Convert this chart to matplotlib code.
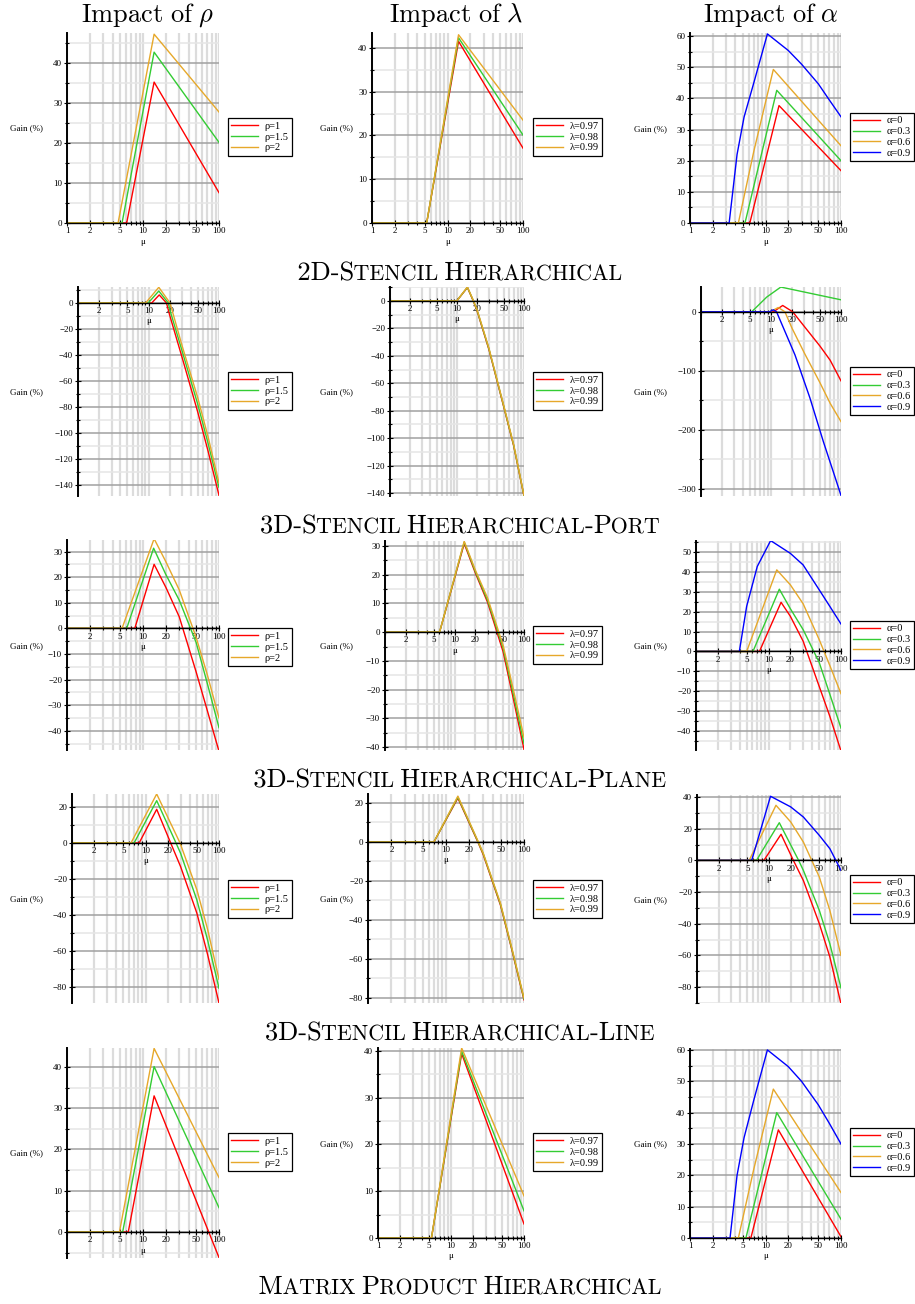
import numpy as np
import matplotlib
matplotlib.use('Agg')
import matplotlib.pyplot as plt
import matplotlib.transforms as mtransforms
from matplotlib.ticker import MultipleLocator, NullFormatter
from matplotlib.font_manager import FontProperties
from matplotlib.textpath import TextPath
from matplotlib.patches import PathPatch

plt.rcParams['font.family'] = ['Liberation Serif', 'DejaVu Serif']
plt.rcParams['mathtext.fontset'] = 'cm'

W, H, DPI = 915, 1304, 100

# line colours in legend order
colors = ['#ff0000', '#33cc33', '#e6a82a', '#0000ff']

rho_labels = ['ρ=1', 'ρ=1.5', 'ρ=2']
lam_labels = ['λ=0.97', 'λ=0.98', 'λ=0.99']
alpha_labels = ['α=0', 'α=0.3', 'α=0.6', 'α=0.9']

col_titles = [r'$\mathrm{Impact\ of}\ \rho$', r'$\mathrm{Impact\ of}\ \lambda$',
              r'$\mathrm{Impact\ of}\ \alpha$']
row_captions = ['2D-Stencil Hierarchical', '3D-Stencil Hierarchical-Port',
                '3D-Stencil Hierarchical-Plane', '3D-Stencil Hierarchical-Line',
                'Matrix Product Hierarchical']

# curves: lists of (mu, gain %) points
st2d_rho = [
    [(1, 0), (6.1, 0), (14, 35.3), (100, 7.6)],
    [(1, 0), (5.3, 0), (14, 42.8), (100, 20.2)],
    [(1, 0), (4.7, 0), (14, 47.3), (100, 27.8)],
]
st2d_lam = [
    [(1, 0), (5.3, 0), (14, 41.5), (100, 17.1)],
    [(1, 0), (5.3, 0), (14, 42.3), (100, 20.1)],
    [(1, 0), (5.3, 0), (14, 43.0), (100, 23.5)],
]
st2d_alpha = [
    [(1, 0), (6.2, 0), (15.1, 37.7), (100, 16.8)],
    [(1, 0), (5.35, 0), (14.1, 42.6), (100, 20.0)],
    [(1, 0), (4.37, 0), (7, 23), (12.7, 49.3), (100, 24.8)],
    [(1, 0), (3.3, 0), (4.2, 22), (5.2, 34), (7, 45), (10.6, 60.7), (20, 55.4),
     (30, 51), (50, 44.7), (70, 39.5), (100, 34.1)],
]

port_rho = [
    [(1, 0), (11.1, 0), (14.2, 6.2), (18, 0), (20, -9.5), (30, -42), (50, -84),
     (70, -114), (100, -148)],
    [(1, 0), (9.9, 0), (14, 9.2), (19.1, 0), (20, -5), (30, -37), (50, -78),
     (70, -108), (100, -142)],
    [(1, 0), (9.1, 0), (14, 12.1), (20.2, 0), (30, -33), (50, -73),
     (70, -103), (100, -138.5)],
]
port_lam = [
    [(1, 0), (9.9, 0), (14.3, 9.8), (17.5, 0), (20, -7.5), (30, -35.5), (50, -77.5),
     (70, -105.5), (100, -142.3)],
    [(1, 0), (9.9, 0), (14.3, 10.0), (17.6, 0), (20, -7), (30, -35), (50, -77),
     (70, -105), (100, -142)],
    [(1, 0), (9.9, 0), (14.3, 10.2), (17.7, 0), (20, -6.5), (30, -34.5), (50, -76.5),
     (70, -104.5), (100, -141.7)],
]
port_alpha = [
    [(1, 0), (10.8, 0), (14.7, 10.7), (20.4, 0), (30, -25), (50, -58),
     (70, -82), (100, -117)],
    [(1, 0), (5.3, 0), (8.7, 25), (13.8, 41.9), (100, 20.3)],
    [(1, 0), (9.7, 0), (12.7, 7.3), (15.8, 0), (20, -28), (30, -70), (50, -120),
     (70, -155), (100, -186)],
    [(1, 0), (9.5, 0), (10.8, 3.4), (12, 0), (22, -73), (36, -146), (56, -220),
     (77.6, -271), (100, -311)],
]

plane_rho = [
    [(1, 0), (7.8, 0), (14, 25), (20, 16), (30, 4.5), (50, -17), (70, -32), (100, -48)],
    [(1, 0), (6.1, 0), (13.8, 31.3), (20, 21), (30, 11), (50, -5.5), (70, -21.4),
     (100, -38.8)],
    [(1, 0), (5.3, 0), (14, 35), (20, 26), (30, 15), (50, -3.5), (70, -18), (100, -35)],
]
plane_lam = [
    [(1, 0), (6.1, 0), (13.8, 30.8), (20, 20.5), (30, 10.3), (50, -6.8), (70, -23),
     (100, -40.8)],
    [(1, 0), (6.1, 0), (13.8, 31.3), (20, 21), (30, 11), (50, -5.5), (70, -21.4),
     (100, -38.8)],
    [(1, 0), (6.1, 0), (13.8, 31.6), (20, 21.5), (30, 11.8), (50, -4.5), (70, -19.8),
     (100, -36.6)],
]
plane_alpha = [
    [(1, 0), (7.5, 0), (14.9, 24.7), (20, 17.7), (30, 5.2), (50, -17.5), (70, -32.5),
     (100, -50)],
    [(1, 0), (6.1, 0), (14.1, 31.3), (20, 21.5), (30, 11), (50, -5.5), (70, -21.4),
     (100, -38.5)],
    [(1, 0), (5.0, 0), (13, 41), (20, 33.5), (30, 24), (50, 6), (70, -7), (100, -21.2)],
    [(1, 0), (3.96, 0), (5, 22.7), (7, 42.7), (10.7, 55.7), (20, 49.3), (30, 43.5),
     (50, 31), (70, 22.7), (100, 13.8)],
]

line_rho = [
    [(1, 0), (8.2, 0), (14.2, 18.7), (22, 0), (30, -13.1), (50, -39), (70, -62),
     (100, -89)],
    [(1, 0), (7, 0), (14.2, 23.5), (26, 0), (30, -5.7), (50, -31.7), (70, -54),
     (100, -80.7)],
    [(1, 0), (6.35, 0), (14.2, 27.2), (29.5, 0), (50, -26), (70, -48), (100, -75.7)],
]
line_lam = [
    [(1, 0), (7, 0), (14.2, 22.5), (25.6, 0), (30, -6.5), (50, -32.5), (70, -55.5),
     (100, -81)],
    [(1, 0), (7, 0), (14.2, 23), (25.8, 0), (30, -6), (50, -32), (70, -55),
     (100, -80.5)],
    [(1, 0), (7, 0), (14.2, 23.5), (26, 0), (30, -5.7), (50, -31.5), (70, -54.5),
     (100, -80)],
]
line_alpha = [
    [(1, 0), (8.5, 0), (14.7, 16.5), (21.8, 0), (30, -12.7), (50, -40), (70, -61),
     (100, -90.7)],
    [(1, 0), (6.7, 0), (13.9, 23.8), (25.8, 0), (30, -6.3), (50, -31.6), (70, -52.7),
     (100, -80.6)],
    [(1, 0), (5.3, 0), (12.5, 34.8), (20, 24.3), (30, 11.6), (50, -10.5), (70, -31.6),
     (100, -60)],
    [(1, 0), (5.75, 0), (10.5, 40.5), (20, 33.8), (30, 27.4), (50, 15.8), (70, 7.4),
     (100, -6.3)],
]

matprod_rho = [
    [(1, 0), (6.4, 0), (14, 33), (100, -6.2)],
    [(1, 0), (5.4, 0), (14, 40.1), (100, 5.9)],
    [(1, 0), (4.9, 0), (14, 44.5), (100, 13.2)],
]
matprod_lam = [
    [(1, 0), (5.4, 0), (14, 39.4), (100, 3.0)],
    [(1, 0), (5.4, 0), (14, 39.9), (100, 5.8)],
    [(1, 0), (5.4, 0), (14, 40.6), (100, 9.0)],
]
matprod_alpha = [
    [(1, 0), (6.4, 0), (14.8, 34.5), (100, 0.4)],
    [(1, 0), (5.5, 0), (14.1, 40), (100, 6)],
    [(1, 0), (4.37, 0), (7, 22), (12.7, 47.5), (100, 14.5)],
    [(1, 0), (3.39, 0), (4.2, 20), (5.2, 32), (7, 44), (10.6, 60), (20, 54.7),
     (30, 50), (50, 42.5), (70, 36.6), (100, 30)],
]

curves = [
    [st2d_rho, st2d_lam, st2d_alpha],
    [port_rho, port_lam, port_alpha],
    [plane_rho, plane_lam, plane_alpha],
    [line_rho, line_lam, line_alpha],
    [matprod_rho, matprod_lam, matprod_alpha],
]
legend_labels = [rho_labels, lam_labels, alpha_labels]

# y-axis range and tick step of every panel
ylims = [
    [(0, 47.6), (0, 43.4), (0, 61)],
    [(-148.5, 12.3), (-142.2, 10.2), (-312, 42)],
    [(-47.5, 34.5), (-41, 31.7), (-49.5, 55.5)],
    [(-88.9, 27.2), (-82.6, 24.6), (-90.1, 41.3)],
    [(-6.3, 44.6), (0, 40.6), (0, 60.3)],
]
ysteps = [[10, 10, 10], [20, 20, 100], [10, 10, 10], [20, 20, 20], [10, 10, 10]]

# pixel layout: axes box (left, right, top, bottom)
boxes = [
    [(67, 219, 33, 223), (372, 523, 33, 223), (690, 841, 33, 223)],
    [(78, 219, 287, 496), (390, 524, 287, 496), (701, 841, 287, 496)],
    [(67, 219, 540, 750), (385, 524, 541, 750), (696, 841, 541, 750)],
    [(72, 219, 794, 1003), (368, 524, 794, 1003), (697, 841, 795, 1003)],
    [(67, 219, 1048, 1258), (378, 524, 1048, 1238), (690, 841, 1049, 1238)],
]
legend_x = [228, 533, 850]
legend_y = [[137, 137, 137], [391, 391, 391], [647, 645, 645], [899, 899, 899],
            [1152, 1152, 1152]]
gain_x = [26, 337, 650]
gain_y = [[128, 128, 129], [392, 392, 392], [646, 646, 646], [899, 899, 900],
          [1153, 1144, 1144]]
title_x = [148, 456, 771]
caption_base = [280, 533, 787, 1040, 1294]

xmajor = [1, 2, 5, 10, 20, 50, 100]
xminor = [3, 4, 6, 7, 8, 9, 30, 40, 60, 70, 80, 90]


def fx(px):
    return px / W


def fy(py):
    return 1 - py / H


def small_caps(fig, text, xc, base, big=19, small=15.8):
    # small capitals drawn as cmr10 glyph outlines, centred on xc (pixels)
    runs = []
    for ch in text:
        size = small if ch.islower() else big
        c = ch.upper()
        if runs and runs[-1][1] == size and c != ' ' and runs[-1][0][-1] != ' ':
            runs[-1][0] += c
        else:
            runs.append([c, size])
    gap = 0.06 * big
    items = []
    cursor = 0.0
    for s, size in runs:
        if s == ' ':
            cursor += 0.24 * big
            continue
        tp = TextPath((0, 0), s, size=size, prop=FontProperties(family='cmr10'))
        ext = tp.get_extents()
        items.append((tp, cursor - ext.x0))
        cursor += ext.width + gap
    cursor -= gap
    scale = DPI / 72
    x_start = xc - cursor * scale / 2
    for tp, dx in items:
        tr = mtransforms.Affine2D().translate(dx, 0).scale(scale).translate(x_start, H - base)
        fig.add_artist(PathPatch(tp, transform=tr, facecolor='black', lw=0))


fig = plt.figure(figsize=(W / DPI, H / DPI), dpi=DPI)

for c, title in enumerate(col_titles):
    fig.text(fx(title_x[c]), fy(22), title, fontsize=19, ha='center', va='baseline')

for r in range(5):
    small_caps(fig, row_captions[r], 460, caption_base[r])
    for c in range(3):
        x0, x1, y0, y1 = boxes[r][c]
        ax = fig.add_axes([fx(x0), fy(y1), (x1 - x0) / W, (y1 - y0) / H])
        ax.set_xscale('log')
        ax.set_xlim(1, 100)
        lo, hi = ylims[r][c]
        ax.set_ylim(lo, hi)

        handles = []
        for k, pts in enumerate(curves[r][c]):
            mu = [p[0] for p in pts]
            gain = [p[1] for p in pts]
            ln, = ax.plot(mu, gain, color=colors[k], lw=1.0, zorder=2)
            handles.append(ln)

        # grid drawn by hand so tick labels stay on top of it
        step = ysteps[r][c]
        for v in xmajor + xminor:
            ax.axvline(v, color='#dcdcdc', lw=1.6, zorder=0.2)
        for v in np.arange(np.ceil(lo / (step / 2)), np.floor(hi / (step / 2)) + 1) * step / 2:
            major = abs(v / step - round(v / step)) < 1e-6
            ax.axhline(v, color='#a0a0a0' if major else '#e6e6e6', lw=1.1,
                       zorder=0.3 if major else 0.25)

        for s in ['top', 'right']:
            ax.spines[s].set_visible(False)
        ax.spines['bottom'].set_position(('data', 0))
        ax.spines['bottom'].set_linewidth(1.0)
        ax.spines['left'].set_linewidth(1.4)

        xlabels = [str(v) for v in xmajor]
        if lo < 0:
            xlabels[0] = ''
        ax.set_xticks(xmajor, xlabels)
        ax.set_xticks(xminor, minor=True)
        ax.xaxis.set_minor_formatter(NullFormatter())
        ax.yaxis.set_major_locator(MultipleLocator(step))
        ax.yaxis.set_minor_locator(MultipleLocator(step / 2))
        ax.tick_params(axis='x', which='major', direction='inout', length=4, width=0.8,
                       labelsize=6.5, pad=1)
        ax.tick_params(axis='x', which='minor', direction='inout', length=3, width=0.8)
        ax.tick_params(axis='y', which='major', direction='inout', length=5, width=0.8,
                       labelsize=6.5, pad=1)
        ax.tick_params(axis='y', which='minor', direction='inout', length=3, width=0.8)
        ax.set_axisbelow(True)

        trans = mtransforms.blended_transform_factory(ax.transAxes, ax.transData)
        ax.annotate('μ', xy=(0.5, 0), xycoords=trans, xytext=(0, -18.5),
                    textcoords='offset pixels', ha='center', va='center', fontsize=6.5)

        fig.text(fx(gain_x[c]), fy(gain_y[r][c]), 'Gain (%)', fontsize=6.5,
                 ha='center', va='center')

        leg = ax.legend(handles, legend_labels[c][:len(handles)], loc='center left',
                        bbox_to_anchor=(fx(legend_x[c]), fy(legend_y[r][c])),
                        bbox_transform=fig.transFigure, frameon=True, fancybox=False,
                        edgecolor='black', framealpha=1, fontsize=7.5, handlelength=2.6,
                        handletextpad=0.6, borderpad=0.3, labelspacing=0.15,
                        borderaxespad=0)
        leg.get_frame().set_linewidth(0.9)

fig.savefig('out.png', dpi=DPI)
